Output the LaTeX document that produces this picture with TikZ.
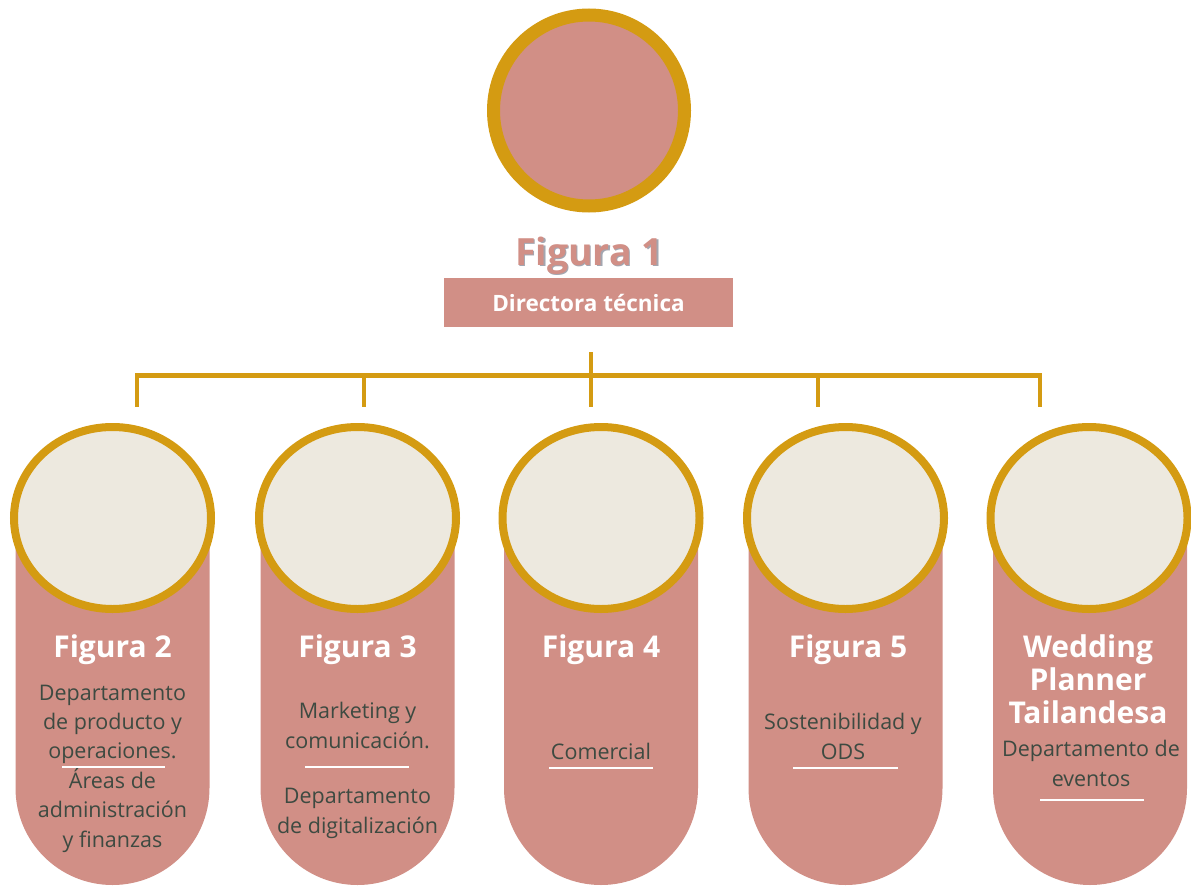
\documentclass[tikz,border=0pt]{standalone}
\usepackage{fontspec}
\setmainfont{Open Sans}
\usetikzlibrary{shapes.geometric}
\definecolor{gold}{HTML}{D49B12}
\definecolor{rose}{HTML}{D18F86}
\definecolor{cream}{HTML}{EDE9DF}
\definecolor{ink}{HTML}{3D4A41}
\definecolor{shade}{HTML}{A3A6B0}
\begin{document}
\begin{tikzpicture}[x=1pt,y=1pt,
  ring/.style={draw=gold, line width=8pt, fill=cream, ellipse, minimum width=197pt, minimum height=182pt, inner sep=0pt},
  topring/.style={draw=gold, line width=13pt, fill=rose, circle, minimum size=191pt, inner sep=0pt},
  capsule/.style={fill=rose, draw=none},
  title/.style={font=\fontsize{30}{33}\selectfont\bfseries, text=white, align=center, anchor=base, inner sep=0pt},
  body/.style={font=\fontsize{21.5}{29.4}\selectfont, text=ink, align=center, anchor=base, inner sep=0pt},
  sepline/.style={draw=white, line width=1.3pt},
  bar/.style={draw=gold, line width=5pt},
  stem/.style={draw=gold, line width=3.5pt}
]
\useasboundingbox (0,0) rectangle (1191,-886);

% top
\node[topring] (top) at (589,-110.5) {};
\node[font=\fontsize{37.5}{40}\selectfont\bfseries, text=shade, anchor=base, inner sep=0pt] (f1s) at (590.5,-266.5) {Figura 1};
\node[font=\fontsize{37.5}{40}\selectfont\bfseries, text=rose, anchor=base, inner sep=0pt] (f1) at (589,-265) {Figura 1};
\node[fill=rose, minimum width=289pt, minimum height=49pt, inner sep=0pt, text=white, font=\fontsize{22.5}{25}\selectfont\bfseries] (dir) at (588.5,-302.5) {Directora técnica};

% connectors
\coordinate (hubtop) at (591,-352);
\coordinate (b1) at (137,-375);
\coordinate (b2) at (364,-375);
\coordinate (b3) at (591,-375);
\coordinate (b4) at (818,-375);
\coordinate (b5) at (1040,-375);
\coordinate (d1) at (137,-407);
\coordinate (d2) at (364,-407);
\coordinate (d3) at (591,-407);
\coordinate (d4) at (818,-407);
\coordinate (d5) at (1040,-407);
\draw[bar] ([xshift=-1.75pt]b1) -- ([xshift=1.75pt]b5);
\draw[stem] (hubtop) -- (d3);
\foreach \i in {1,2,4,5} { \draw[stem] (b\i) -- (d\i); }

% capsules
\foreach \cx in {112.5,357.5,601,845.5,1090} {
  \path[capsule] (\cx-97,-520) -- (\cx-97,-788) arc[start angle=180, end angle=360, radius=97pt] -- (\cx+97,-520) -- cycle;
}

% circles
\node[ring] (c1) at (112.5,-518) {};
\node[ring] (c2) at (357.5,-518) {};
\node[ring] (c3) at (601,-518) {};
\node[ring] (c4) at (845.5,-518) {};
\node[ring] (c5) at (1089,-518) {};

% column 1 (base anchor = last line)
\node[title] (t2) at (112.5,-657) {Figura 2};
\node[body] (b2a) at (112.5,-847) {Departamento\\de producto y\\operaciones.\\Áreas de\\administración\\y finanzas};
\draw[sepline] (62,-767) -- (165,-767);

% column 2
\node[title] (t3) at (357.5,-657) {Figura 3};
\node[body] (b3a) at (357.5,-748) {Marketing y\\comunicación.};
\draw[sepline] (305,-767) -- (409,-767);
\node[body] (b3b) at (357.5,-833) {Departamento\\de digitalización};

% column 3
\node[title] (t4) at (601,-657) {Figura 4};
\node[body] (b4a) at (601,-759) {Comercial};
\draw[sepline] (549,-768) -- (653,-768);

% column 4
\node[title] (t5) at (848,-657) {Figura 5};
\node[body] (b5a) at (843,-759) {Sostenibilidad y\\ODS};
\draw[sepline] (793,-768) -- (898,-768);

% column 5
\node[title] (t6) at (1088,-723) {Wedding\\Planner\\Tailandesa};
\node[body] (b6a) at (1091,-786) {Departamento de\\eventos};
\draw[sepline] (1040,-800) -- (1144,-800);
\end{tikzpicture}
\end{document}
